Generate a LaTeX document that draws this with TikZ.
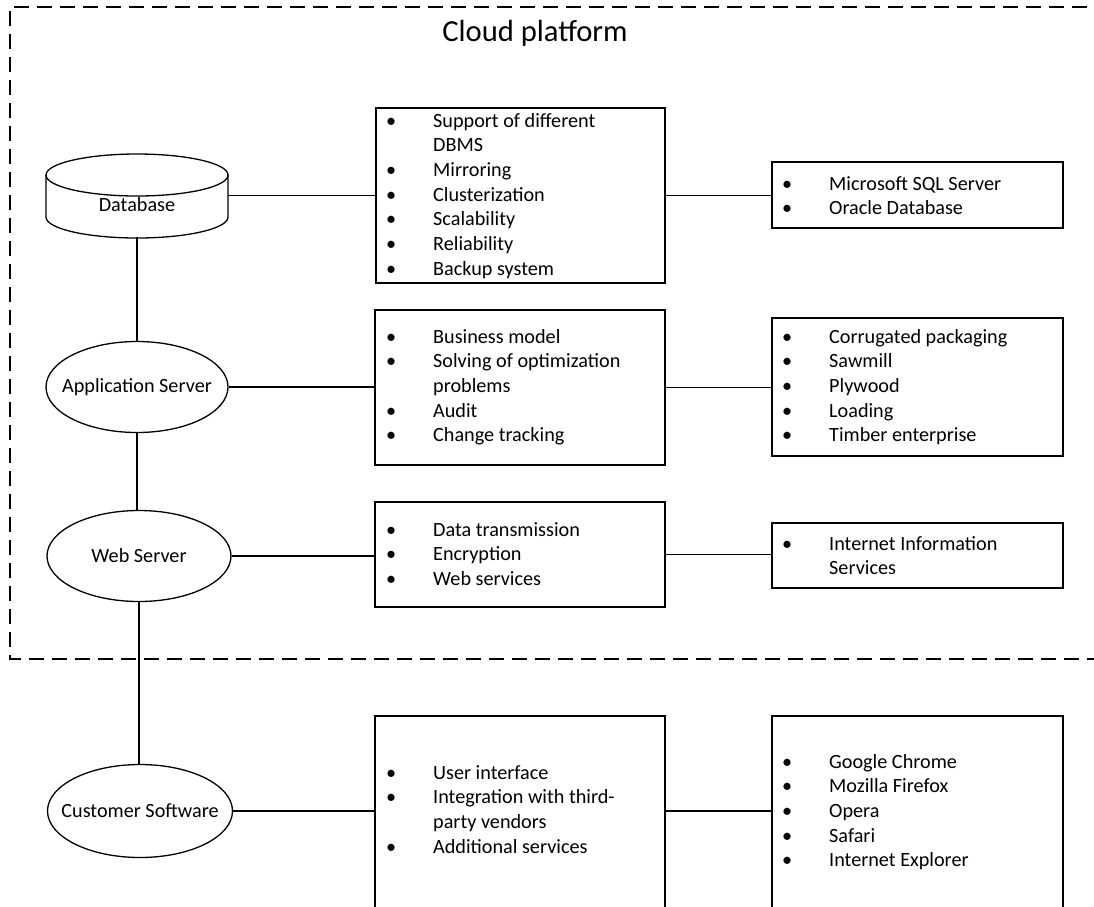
\documentclass[tikz,border=0pt]{standalone}
\usepackage{fontspec}
\setmainfont{Carlito}
\usetikzlibrary{shapes.geometric}
\newcommand\itemlist[1]{{\renewcommand\arraystretch{1}\setlength\tabcolsep{0pt}\begin{tabular}[t]{@{}p{47pt}@{}l@{}}#1\end{tabular}}}
\newcommand\bul{\textbullet}
\begin{document}
\begin{tikzpicture}[x=1pt,y=-1pt,
  every node/.style={font=\fontsize{20.2}{24.7}\selectfont},
  conn/.style={line width=1.5pt},
  box/.style={draw, line width=1.5pt, rectangle, inner sep=0pt},
  oval/.style={draw, line width=1.3pt, ellipse, inner sep=0pt},
  lst/.style={anchor=base west, inner sep=0pt, align=left},
  frame/.style={dashed, dash pattern=on 15pt off 8pt, line width=1.5pt}]
\clip (0,0) rectangle (1094,906);
\fill[white] (0,0) rectangle (1094,906);
% cloud platform frame
\draw[frame] (1110,7) -- (10,7) -- (10,659) -- (1110,659);
\node[font=\fontsize{30.6}{36}\selectfont] (title) at (535,33) {Cloud platform};
% database cylinder
\node[inner sep=0pt, minimum width=182pt, minimum height=83pt, label={[yshift=-9pt]center:Database}] (db) at (137,195.5) {};
\draw[line width=1.3pt] (137,175) ellipse [x radius=91pt, y radius=21pt];
\draw[line width=1.3pt] (46,175) -- (46,217) arc[start angle=180, end angle=360, x radius=91pt, y radius=21pt] -- (228,175);
% left column
\node[oval, minimum width=182pt, minimum height=91pt, label=center:{Application Server}] (app) at (137,387) {};
\node[oval, minimum width=184pt, minimum height=91pt, label=center:{Web Server}] (web) at (139,556) {};
\node[oval, minimum width=185pt, minimum height=93pt, label=center:{Customer Software}] (cs) at (140,811) {};
% boxes
\node[box, minimum width=289pt, minimum height=175pt] (b1) at (520.5,195.5) {};
\node[box, minimum width=291pt, minimum height=66pt] (b2) at (917.5,195) {};
\node[box, minimum width=290pt, minimum height=155pt] (b3) at (520,387.5) {};
\node[box, minimum width=291pt, minimum height=138pt] (b4) at (917.5,387) {};
\node[box, minimum width=290pt, minimum height=105pt] (b5) at (520,554.5) {};
\node[box, minimum width=291pt, minimum height=65pt] (b6) at (917.5,555.5) {};
\node[box, minimum width=290pt, minimum height=210pt] (b7) at (520,821) {};
\node[box, minimum width=291pt, minimum height=210pt] (b8) at (917.5,821) {};
% lists
\node[lst] (t1) at (386,127) {\itemlist{\bul & Support of different\\ & DBMS\\ \bul & Mirroring\\ \bul & Clusterization\\ \bul & Scalability\\ \bul & Reliability\\ \bul & Backup system}};
\node[lst] (t2) at (782,190) {\itemlist{\bul & Microsoft SQL Server\\ \bul & Oracle Database}};
\node[lst] (t3) at (386,343) {\itemlist{\bul & Business model\\ \bul & Solving of optimization\\ & problems\\ \bul & Audit\\ \bul & Change tracking}};
\node[lst] (t4) at (782,343) {\itemlist{\bul & Corrugated packaging\\ \bul & Sawmill\\ \bul & Plywood\\ \bul & Loading\\ \bul & Timber enterprise}};
\node[lst] (t5) at (386,536) {\itemlist{\bul & Data transmission\\ \bul & Encryption\\ \bul & Web services}};
\node[lst] (t6) at (782,550) {\itemlist{\bul & Internet Information\\ & Services}};
\node[lst] (t7) at (386,779) {\itemlist{\bul & User interface\\ \bul & Integration with third-\\ & party vendors\\ \bul & Additional services}};
\node[lst] (t8) at (782,768) {\itemlist{\bul & Google Chrome\\ \bul & Mozilla Firefox\\ \bul & Opera\\ \bul & Safari\\ \bul & Internet Explorer}};
% connectors
\draw[conn] (db.south) -- (app.north);
\draw[conn] (app.south) -- (app.south |- web.north);
\draw[conn] (web.south) -- (web.south |- cs.north);
\draw[conn] (db.east) -- (db.east -| b1.west);
\draw[conn] (b1.east) -- (b1.east -| b2.west);
\draw[conn] (app.east) -- (app.east -| b3.west);
\draw[conn] (b3.east) -- (b3.east -| b4.west);
\draw[conn] (web.east) -- (web.east -| b5.west);
\draw[conn] (b5.east) -- (b5.east -| b6.west);
\draw[conn] (cs.east) -- (cs.east -| b7.west);
\draw[conn] (cs.east -| b7.east) -- (cs.east -| b8.west);
\end{tikzpicture}
\end{document}
